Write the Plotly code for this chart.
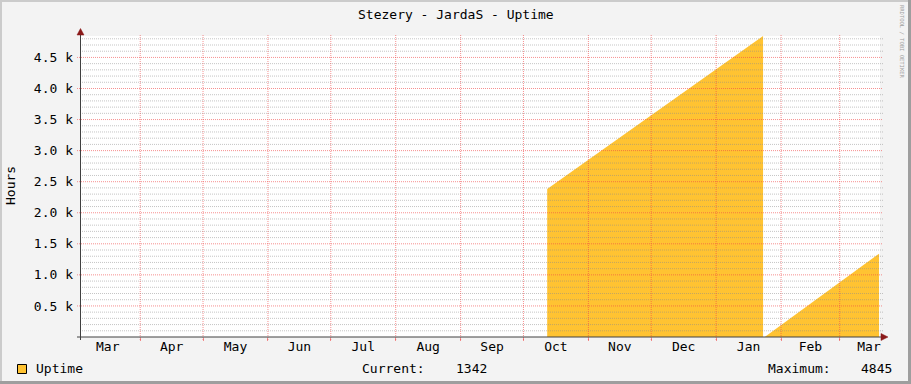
import plotly.graph_objects as go
import pandas as pd

# ---------------- data ----------------
seg1_dates = ["2010-10-12 08:00", "2011-01-23 10:00"]
seg1_hours = [2381, 4845]
seg2_dates = ["2011-01-24 05:00", "2011-03-19 19:00"]
seg2_hours = [0, 1342]

y_tick_vals = [500, 1000, 1500, 2000, 2500, 3000, 3500, 4000, 4500]
y_tick_text = ["0.5 k", "1.0 k", "1.5 k", "2.0 k", "2.5 k", "3.0 k", "3.5 k", "4.0 k", "4.5 k"]
y_minor_step = 100
y_max = 4845
x_range = ["2010-03-03 06:00", "2011-03-20 06:00"]
month_bounds = pd.date_range("2010-04-01", "2011-03-01", freq="MS")

current_value = seg2_hours[-1]
maximum_value = max(seg1_hours + seg2_hours)

# ---------------- geometry helpers ----------------
W, H = 911, 384
L, R, T, B = 80, 31, 36, 47
PW, PH = W - L - R, H - T - B
ZERO_PX = H - B


def px2x(px):
    return (px - L) / PW


def px2y(py):
    return (ZERO_PX - py) / PH


FONT = "DejaVu Sans Mono"
FILL = "#FFC332"
MINOR_C = "rgba(140,140,140,0.5)"
MAJOR_C = "rgba(240,70,70,0.6)"
AXIS_C = "#404040"
ARROW_C = "#8B1A1A"

fig = go.Figure()
for xs, ys in [(seg1_dates, seg1_hours), (seg2_dates, seg2_hours)]:
    fig.add_trace(go.Scatter(x=xs, y=ys, mode="none", fill="tozeroy",
                             fillcolor=FILL, showlegend=False, hoverinfo="skip"))

shapes = []
# minor horizontal grid
majors = set(y_tick_vals)
for v in range(y_minor_step, y_max, y_minor_step):
    if v in majors:
        continue
    shapes.append(dict(type="line", xref="paper", yref="y", x0=0, x1=px2x(883),
                       y0=v, y1=v, layer="above",
                       line=dict(color=MINOR_C, width=1, dash="1px,1px")))
# major horizontal grid
for v in y_tick_vals:
    shapes.append(dict(type="line", xref="paper", yref="y", x0=px2x(77), x1=px2x(883),
                       y0=v, y1=v, layer="above",
                       line=dict(color=MAJOR_C, width=1, dash="1px,1px")))
# vertical month grid
for d in month_bounds:
    shapes.append(dict(type="line", xref="x", yref="paper", x0=d, x1=d,
                       y0=px2y(340), y1=px2y(34), layer="above",
                       line=dict(color=MAJOR_C, width=1, dash="1px,1px")))
# axes
shapes.append(dict(type="line", xref="paper", yref="paper", x0=px2x(77), x1=px2x(882),
                   y0=px2y(337), y1=px2y(337), layer="above",
                   line=dict(color=AXIS_C, width=1)))
shapes.append(dict(type="line", xref="paper", yref="paper", x0=px2x(80.5), x1=px2x(80.5),
                   y0=px2y(340), y1=px2y(33), layer="above",
                   line=dict(color=AXIS_C, width=1)))
# arrows
def tri(pts):
    p = "M " + " L ".join(f"{px2x(a)},{px2y(b)}" for a, b in pts) + " Z"
    return dict(type="path", xref="paper", yref="paper", path=p, fillcolor=ARROW_C,
                line=dict(color=ARROW_C, width=0.5), layer="above")

shapes.append(tri([(888, 337), (881, 333.5), (881, 340.5)]))
shapes.append(tri([(80.5, 28.5), (77, 35), (84, 35)]))
# legend square
shapes.append(dict(type="rect", xref="paper", yref="paper",
                   x0=px2x(17.5), x1=px2x(26.5), y0=px2y(364.5), y1=px2y(373.5),
                   fillcolor=FILL, line=dict(color="#000000", width=1), layer="above"))
# 3D frame
shapes.append(dict(type="rect", xref="paper", yref="paper", x0=px2x(0), x1=px2x(911),
                   y0=px2y(0), y1=px2y(2), fillcolor="#CBCBCB", line=dict(width=0), layer="above"))
shapes.append(dict(type="rect", xref="paper", yref="paper", x0=px2x(0), x1=px2x(2),
                   y0=px2y(0), y1=px2y(384), fillcolor="#CBCBCB", line=dict(width=0), layer="above"))
shapes.append(dict(type="rect", xref="paper", yref="paper", x0=px2x(0), x1=px2x(911),
                   y0=px2y(381), y1=px2y(384), fillcolor="#9E9E9E", line=dict(width=0), layer="above"))
shapes.append(dict(type="rect", xref="paper", yref="paper", x0=px2x(908), x1=px2x(911),
                   y0=px2y(0), y1=px2y(384), fillcolor="#9E9E9E", line=dict(width=0), layer="above"))

ann = []
def text(s, x, y, xanchor="center", size=13, color="#000000", angle=0, family=FONT):
    ann.append(dict(text=s, xref="paper", yref="paper", x=px2x(x), y=px2y(y),
                    xanchor=xanchor, yanchor="middle", showarrow=False, textangle=angle,
                    font=dict(family=family, size=size, color=color)))

text("Stezery - JardaS - Uptime", 455.5, 14.5)
text("Hours", 10.5, 185.5, angle=-90)
text("RRDTOOL / TOBI OETIKER", 902, 42, size=5.5, color="#A0A0A0", angle=90)
text("Uptime", 33.5, 368.5, xanchor="left")
text("Current:", 360, 368.5, xanchor="left")
text(f"{current_value}", 489, 368.5, xanchor="right")
text("Maximum:", 765.5, 368.5, xanchor="left")
text(f"{maximum_value}", 894, 368.5, xanchor="right")

fig.update_layout(
    width=W, height=H,
    margin=dict(l=L, r=R, t=T, b=B, pad=0),
    paper_bgcolor="#F3F3F3", plot_bgcolor="#FFFFFF",
    showlegend=False,
    shapes=shapes, annotations=ann,
    font=dict(family=FONT, size=13, color="#000000"),
    xaxis=dict(type="date", range=x_range, tickformat="%b", dtick="M1",
               tick0="2010-01-01", ticklabelmode="period", showgrid=False,
               zeroline=False, showline=False, ticks="outside", ticklen=3,
               tickcolor=MAJOR_C, tickfont=dict(family=FONT, size=13),
               ticklabelstandoff=-6),
    yaxis=dict(range=[0, y_max], tickvals=y_tick_vals, ticktext=y_tick_text,
               showgrid=False, zeroline=False, showline=False, ticks="",
               tickfont=dict(family=FONT, size=13), ticklabelstandoff=6),
)

fig.write_html("out.html")
